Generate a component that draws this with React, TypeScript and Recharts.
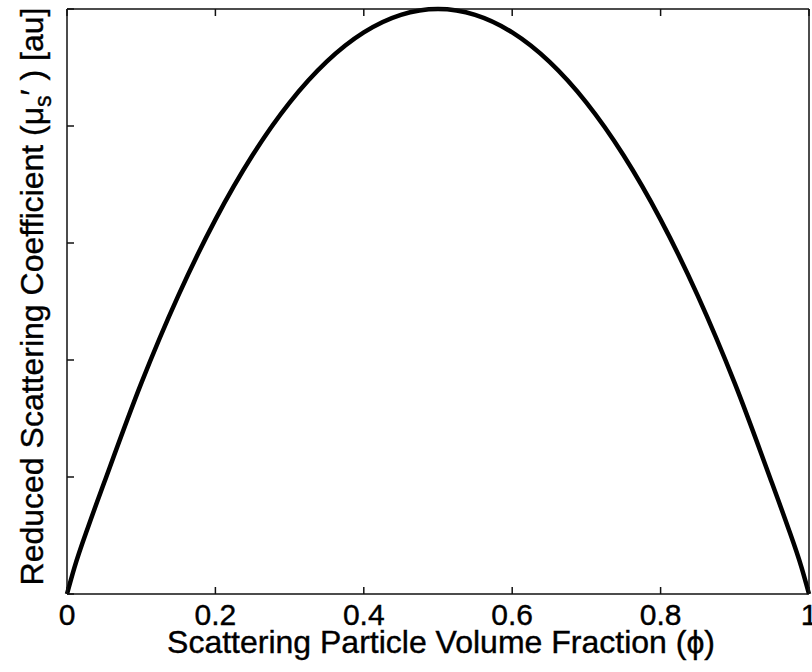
import React from 'react';
import { LineChart, Line, XAxis, YAxis } from 'recharts';

// Volume fraction (phi) sample positions and reduced scattering coefficient
const phiValues = [0, 0.01, 0.03, 0.05, 0.1, 0.15, 0.2, 0.25, 0.3, 0.35, 0.4, 0.45, 0.5, 0.55, 0.6, 0.65, 0.7, 0.75, 0.8, 0.85, 0.9, 0.95, 0.97, 0.99, 1];
const muValues = [0, 0.045, 0.12, 0.19, 0.36, 0.51, 0.64, 0.75, 0.84, 0.91, 0.96, 0.99, 1.0, 0.99, 0.96, 0.91, 0.84, 0.75, 0.64, 0.51, 0.36, 0.19, 0.12, 0.045, 0];

const xTicks = [0, 0.2, 0.4, 0.6, 0.8, 1];
const xTickLabels = ['0', '0.2', '0.4', '0.6', '0.8', '1'];
const yTicks = [0, 0.2, 0.4, 0.6, 0.8, 1];

const xAxisTitle = 'Scattering Particle Volume Fraction (\u03d5)';
const yAxisTitleMain = 'Reduced Scattering Coefficient (\u03bc';
const yAxisTitleSub = 's';
const yAxisTitleEnd = '\u2032 ) [au]';

const data = phiValues.map((p, i) => ({ phi: p, mu: muValues[i] }));

const FONT = '"Liberation Sans", Arial, Helvetica, sans-serif';
const TICK_FS = 30;
const TITLE_FS = 32;
const TICK_LEN = 7;
const AX = '#111';
const TEXT_STROKE = 0.4;

const BottomTick = (props: any) => {
  const { x, y, payload } = props;
  const idx = xTicks.indexOf(payload.value);
  const label = idx >= 0 ? xTickLabels[idx] : String(payload.value);
  return (
    <g>
      <line x1={x} x2={x} y1={y} y2={y - TICK_LEN} stroke={AX} strokeWidth={1.5} />
      <text
        x={x}
        y={y + 31}
        textAnchor="middle"
        fontSize={TICK_FS}
        fontFamily={FONT}
        fill="#000"
        stroke="#000"
        strokeWidth={TEXT_STROKE}
      >
        {label}
      </text>
    </g>
  );
};

const TopTick = (props: any) => {
  const { x, y } = props;
  return <line x1={x} x2={x} y1={y} y2={y + TICK_LEN} stroke={AX} strokeWidth={1.5} />;
};

const LeftTick = (props: any) => {
  const { x, y } = props;
  return <line x1={x} x2={x + TICK_LEN} y1={y} y2={y} stroke={AX} strokeWidth={1.5} />;
};

const RightTick = (props: any) => {
  const { x, y } = props;
  return <line x1={x} x2={x - TICK_LEN} y1={y} y2={y} stroke={AX} strokeWidth={1.5} />;
};

const XTitle = (props: any) => {
  const vb = props.viewBox || {};
  const cx = vb.x + vb.width / 2 + 3;
  const by = vb.y + 59;
  return (
    <text
      x={cx}
      y={by}
      textAnchor="middle"
      fontSize={TITLE_FS}
      fontFamily={FONT}
      fill="#000"
      stroke="#000"
      strokeWidth={TEXT_STROKE}
    >
      {xAxisTitle}
    </text>
  );
};

const YTitle = (props: any) => {
  const vb = props.viewBox || {};
  const bx = vb.x + 43;
  const cy = vb.y + vb.height / 2 - 5;
  return (
    <text
      x={bx}
      y={cy}
      transform={`rotate(-90, ${bx}, ${cy})`}
      textAnchor="middle"
      fontSize={TITLE_FS}
      fontFamily={FONT}
      fill="#000"
      stroke="#000"
      strokeWidth={TEXT_STROKE}
    >
      {yAxisTitleMain}
      <tspan fontSize={23} dy={8}>{yAxisTitleSub}</tspan>
      <tspan dy={-8}>{yAxisTitleEnd}</tspan>
    </text>
  );
};

export default function App() {
  return (
    <div style={{ position: 'absolute', left: 0, top: 0, width: 812, height: 672, background: '#fff' }}>
      <LineChart width={812} height={672} data={data} margin={{ top: 4, right: 0, bottom: 0, left: 0 }}>
        <XAxis
          dataKey="phi"
          type="number"
          domain={[0, 1]}
          ticks={xTicks}
          interval={0}
          height={78}
          tickSize={0}
          tickMargin={0}
          tickLine={false}
          tick={<BottomTick />}
          axisLine={{ stroke: AX, strokeWidth: 1.5 }}
          label={(p: any) => <XTitle {...p} />}
        />
        <XAxis
          xAxisId="top"
          orientation="top"
          dataKey="phi"
          type="number"
          domain={[0, 1]}
          ticks={xTicks}
          interval={0}
          height={5}
          tickSize={0}
          tickMargin={0}
          tickLine={false}
          tick={<TopTick />}
          axisLine={{ stroke: AX, strokeWidth: 1.5 }}
        />
        <YAxis
          type="number"
          domain={[0, 1]}
          ticks={yTicks}
          interval={0}
          width={67}
          tickSize={0}
          tickMargin={0}
          tickLine={false}
          tick={<LeftTick />}
          axisLine={{ stroke: AX, strokeWidth: 1.5 }}
          label={(p: any) => <YTitle {...p} />}
        />
        <YAxis
          yAxisId="right"
          orientation="right"
          type="number"
          domain={[0, 1]}
          ticks={yTicks}
          interval={0}
          width={3}
          tickSize={0}
          tickMargin={0}
          tickLine={false}
          tick={<RightTick />}
          axisLine={{ stroke: AX, strokeWidth: 1.5 }}
        />
        <Line
          dataKey="mu"
          type="monotone"
          stroke="#000"
          strokeWidth={4.5}
          dot={false}
          isAnimationActive={false}
        />
      </LineChart>
    </div>
  );
}
